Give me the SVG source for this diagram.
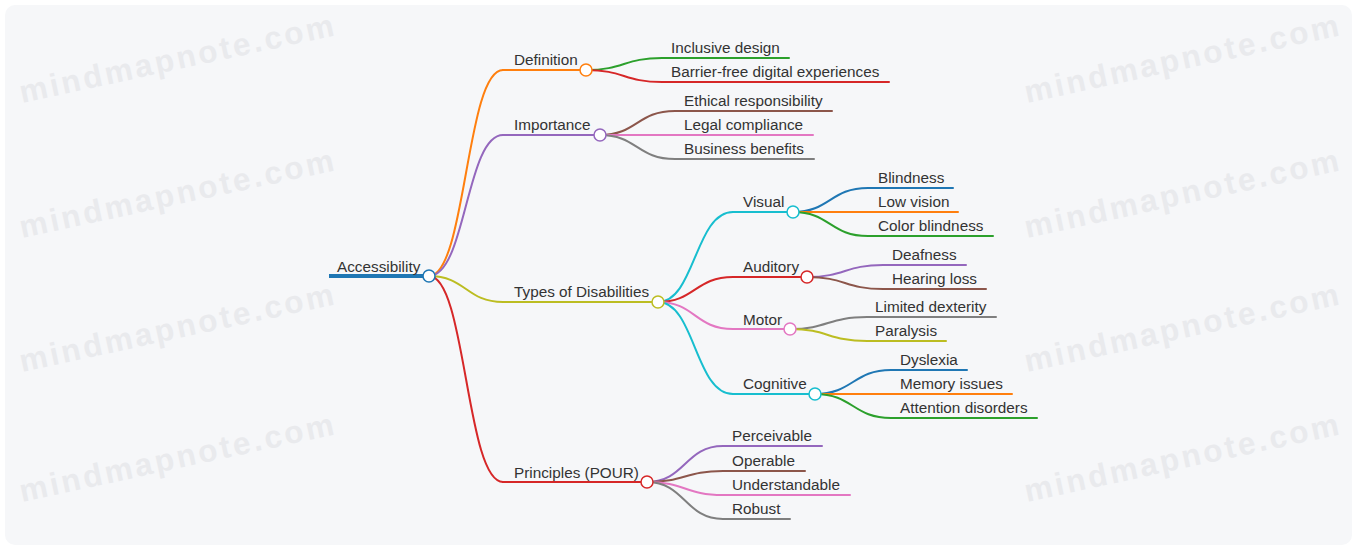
<svg xmlns="http://www.w3.org/2000/svg" width="1357" height="548" viewBox="0 0 1357 548">
<style>
.bg{fill:#f6f7f9}
.wm{font-family:"Liberation Sans",Arial,sans-serif;font-weight:bold;font-size:31.5px;fill:#e9eaed;letter-spacing:2.9px}
.t{font-family:"Liberation Sans",Arial,sans-serif;font-size:15.3px;fill:#333}
.l{fill:none;stroke-width:2;stroke-linecap:round}
.c{fill:#fff;stroke-width:1.5}
</style>
<rect width="1357" height="548" fill="#fff"/>
<rect class="bg" x="5" y="5" width="1347" height="540" rx="10"/>
<g id="watermarks">
<text class="wm" transform="translate(22,103) rotate(-12.2)">mindmapnote.com</text>
<text class="wm" transform="translate(22,238) rotate(-12.2)">mindmapnote.com</text>
<text class="wm" transform="translate(22,372) rotate(-12.2)">mindmapnote.com</text>
<text class="wm" transform="translate(22,502) rotate(-12.2)">mindmapnote.com</text>
<text class="wm" transform="translate(1027,103) rotate(-12.2)">mindmapnote.com</text>
<text class="wm" transform="translate(1027,238) rotate(-12.2)">mindmapnote.com</text>
<text class="wm" transform="translate(1027,372) rotate(-12.2)">mindmapnote.com</text>
<text class="wm" transform="translate(1027,502) rotate(-12.2)">mindmapnote.com</text>
</g>
<g id="connectors">
<path class="l" stroke="#ff7f0e" d="M429,276 C466,276 466,70 503,70"/>
<path class="l" stroke="#9467bd" d="M429,276 C466,276 466,135 503,135"/>
<path class="l" stroke="#bcbd22" d="M429,276 C466,276 466,302 503,302"/>
<path class="l" stroke="#d62728" d="M429,276 C466,276 466,482 503,482"/>
<path class="l" stroke="#2ca02c" d="M586,70 C624,70 624,58 662,58"/>
<path class="l" stroke="#d62728" d="M586,70 C624,70 624,82 662,82"/>
<path class="l" stroke="#8c564b" d="M600,135 C637,135 637,111 675,111"/>
<path class="l" stroke="#e377c2" d="M600,135 C637,135 637,135 675,135"/>
<path class="l" stroke="#7f7f7f" d="M600,135 C637,135 637,159 675,159"/>
<path class="l" stroke="#17becf" d="M658,302 C695,302 695,212 733,212"/>
<path class="l" stroke="#d62728" d="M658,302 C695,302 695,277 733,277"/>
<path class="l" stroke="#e377c2" d="M658,302 C695,302 695,329 733,329"/>
<path class="l" stroke="#17becf" d="M658,302 C695,302 695,394 733,394"/>
<path class="l" stroke="#1f77b4" d="M793,212 C830,212 830,188 868,188"/>
<path class="l" stroke="#ff7f0e" d="M793,212 C830,212 830,212 868,212"/>
<path class="l" stroke="#2ca02c" d="M793,212 C830,212 830,236 868,236"/>
<path class="l" stroke="#9467bd" d="M807,277 C845,277 845,265 883,265"/>
<path class="l" stroke="#8c564b" d="M807,277 C845,277 845,289 883,289"/>
<path class="l" stroke="#7f7f7f" d="M790,329 C828,329 828,317 867,317"/>
<path class="l" stroke="#bcbd22" d="M790,329 C828,329 828,341 867,341"/>
<path class="l" stroke="#1f77b4" d="M815,394 C853,394 853,370 891,370"/>
<path class="l" stroke="#ff7f0e" d="M815,394 C853,394 853,394 891,394"/>
<path class="l" stroke="#2ca02c" d="M815,394 C853,394 853,418 891,418"/>
<path class="l" stroke="#9467bd" d="M647,482 C685,482 685,446 723,446"/>
<path class="l" stroke="#8c564b" d="M647,482 C685,482 685,471 723,471"/>
<path class="l" stroke="#e377c2" d="M647,482 C685,482 685,495 723,495"/>
<path class="l" stroke="#7f7f7f" d="M647,482 C685,482 685,519 723,519"/>
</g>
<g id="n-root"><line x1="329" y1="276" x2="429" y2="276" stroke="#1f77b4" stroke-width="4"/><circle class="c" cx="429" cy="276" r="6" stroke="#1f77b4"/><text class="t" x="337" y="272">Accessibility</text></g>
<g id="n-definition"><line class="l" x1="503" y1="70" x2="586" y2="70" stroke="#ff7f0e"/><circle class="c" cx="586" cy="70" r="6" stroke="#ff7f0e"/><text class="t" x="514" y="65">Definition</text></g>
<g id="n-inclusive"><line class="l" x1="662" y1="58" x2="789" y2="58" stroke="#2ca02c"/><text class="t" x="671" y="53">Inclusive design</text></g>
<g id="n-barrier"><line class="l" x1="662" y1="82" x2="889" y2="82" stroke="#d62728"/><text class="t" x="671" y="77">Barrier-free digital experiences</text></g>
<g id="n-importance"><line class="l" x1="503" y1="135" x2="600" y2="135" stroke="#9467bd"/><circle class="c" cx="600" cy="135" r="6" stroke="#9467bd"/><text class="t" x="514" y="130">Importance</text></g>
<g id="n-ethical"><line class="l" x1="675" y1="111" x2="832" y2="111" stroke="#8c564b"/><text class="t" x="684" y="106">Ethical responsibility</text></g>
<g id="n-legal"><line class="l" x1="675" y1="135" x2="813" y2="135" stroke="#e377c2"/><text class="t" x="684" y="130">Legal compliance</text></g>
<g id="n-business"><line class="l" x1="675" y1="159" x2="814" y2="159" stroke="#7f7f7f"/><text class="t" x="684" y="154">Business benefits</text></g>
<g id="n-types"><line class="l" x1="503" y1="302" x2="658" y2="302" stroke="#bcbd22"/><circle class="c" cx="658" cy="302" r="6" stroke="#bcbd22"/><text class="t" x="514" y="297">Types of Disabilities</text></g>
<g id="n-visual"><line class="l" x1="733" y1="212" x2="793" y2="212" stroke="#17becf"/><circle class="c" cx="793" cy="212" r="6" stroke="#17becf"/><text class="t" x="743" y="207">Visual</text></g>
<g id="n-blindness"><line class="l" x1="868" y1="188" x2="953" y2="188" stroke="#1f77b4"/><text class="t" x="878" y="183">Blindness</text></g>
<g id="n-lowvision"><line class="l" x1="868" y1="212" x2="958" y2="212" stroke="#ff7f0e"/><text class="t" x="878" y="207">Low vision</text></g>
<g id="n-colorblind"><line class="l" x1="868" y1="236" x2="993" y2="236" stroke="#2ca02c"/><text class="t" x="878" y="231">Color blindness</text></g>
<g id="n-auditory"><line class="l" x1="733" y1="277" x2="807" y2="277" stroke="#d62728"/><circle class="c" cx="807" cy="277" r="6" stroke="#d62728"/><text class="t" x="743" y="272">Auditory</text></g>
<g id="n-deafness"><line class="l" x1="883" y1="265" x2="966" y2="265" stroke="#9467bd"/><text class="t" x="892" y="260">Deafness</text></g>
<g id="n-hearing"><line class="l" x1="883" y1="289" x2="986" y2="289" stroke="#8c564b"/><text class="t" x="892" y="284">Hearing loss</text></g>
<g id="n-motor"><line class="l" x1="733" y1="329" x2="790" y2="329" stroke="#e377c2"/><circle class="c" cx="790" cy="329" r="6" stroke="#e377c2"/><text class="t" x="743" y="325">Motor</text></g>
<g id="n-dexterity"><line class="l" x1="867" y1="317" x2="996" y2="317" stroke="#7f7f7f"/><text class="t" x="875" y="312">Limited dexterity</text></g>
<g id="n-paralysis"><line class="l" x1="867" y1="341" x2="946" y2="341" stroke="#bcbd22"/><text class="t" x="875" y="336">Paralysis</text></g>
<g id="n-cognitive"><line class="l" x1="733" y1="394" x2="815" y2="394" stroke="#17becf"/><circle class="c" cx="815" cy="394" r="6" stroke="#17becf"/><text class="t" x="743" y="389">Cognitive</text></g>
<g id="n-dyslexia"><line class="l" x1="891" y1="370" x2="967" y2="370" stroke="#1f77b4"/><text class="t" x="900" y="365">Dyslexia</text></g>
<g id="n-memory"><line class="l" x1="891" y1="394" x2="1012" y2="394" stroke="#ff7f0e"/><text class="t" x="900" y="389">Memory issues</text></g>
<g id="n-attention"><line class="l" x1="891" y1="418" x2="1037" y2="418" stroke="#2ca02c"/><text class="t" x="900" y="413">Attention disorders</text></g>
<g id="n-principles"><line class="l" x1="503" y1="482" x2="647" y2="482" stroke="#d62728"/><circle class="c" cx="647" cy="482" r="6" stroke="#d62728"/><text class="t" x="514" y="478">Principles (POUR)</text></g>
<g id="n-perceivable"><line class="l" x1="723" y1="446" x2="822" y2="446" stroke="#9467bd"/><text class="t" x="732" y="441">Perceivable</text></g>
<g id="n-operable"><line class="l" x1="723" y1="471" x2="805" y2="471" stroke="#8c564b"/><text class="t" x="732" y="466">Operable</text></g>
<g id="n-understandable"><line class="l" x1="723" y1="495" x2="850" y2="495" stroke="#e377c2"/><text class="t" x="732" y="490">Understandable</text></g>
<g id="n-robust"><line class="l" x1="723" y1="519" x2="790" y2="519" stroke="#7f7f7f"/><text class="t" x="732" y="514">Robust</text></g>
</svg>
